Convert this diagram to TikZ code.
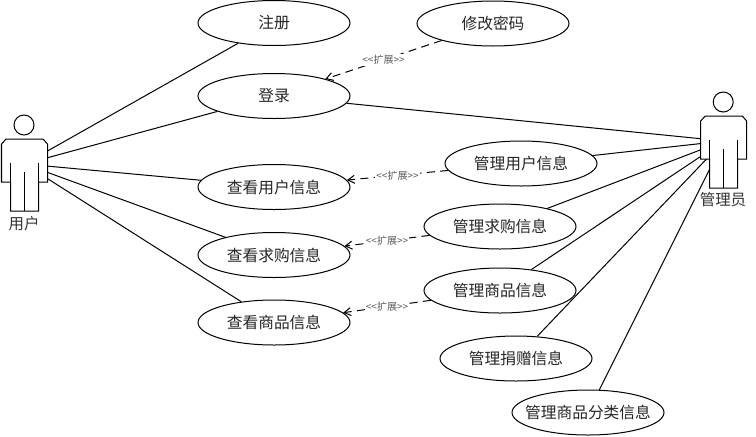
\documentclass[tikz,border=0pt]{standalone}
\usepackage{fontspec}
\setmainfont{Noto Sans CJK SC}
\usetikzlibrary{shapes.geometric,arrows.meta}

\tikzset{
  usecase/.style = {draw, ellipse, fill = white, line width = 0.75pt, minimum width = 114pt, minimum height = 33.75pt, inner sep = 0pt, font = \fontsize{11.8}{14}\selectfont, text = black!85},
  assoc/.style = {line width = 0.75pt},
  extend/.style = {line width = 0.75pt, dashed, dash pattern = on 6pt off 4pt, -{Straight Barb[length = 5pt, width = 6pt]}},
  extendlabel/.style = {fill = white, inner sep = 1pt, font = \fontsize{7.5}{8}\selectfont, text = black!65},
  actorname/.style = {inner sep = 0pt, font = \fontsize{11.6}{13}\selectfont, text = black!80}
}

% stick figure round a centre point, drawn over the line ends
\newcommand{\actorfig}[1]{
  \begin{scope}[shift = {(#1)}, line width = 0.75pt]
    \draw (-0.5,-39) circle [radius = 7.5pt];
    \draw [fill = white] (-18.5,-25) -- (18.5,-25) -- (23,-20) -- (23,18) -- (14,18) -- (14,47) -- (-14,47) -- (-14,18) -- (-23,18) -- (-23,-20) -- cycle;
    \draw (-14,18) -- (-14,-1);
    \draw (14,18) -- (14,-1);
    \draw (0,47) -- (0,8);
  \end{scope}
}
% long text must not widen its ellipse
\newcommand{\widelabel}[1]{\makebox[0pt]{#1}}

\begin{document}
\begin{tikzpicture}[x = 0.75pt, y = -0.75pt]
\useasboundingbox (0,0) rectangle (756,436);

\coordinate (user) at (24.5,164);
\coordinate (admin) at (723.7,141);

\node [usecase] (register) at (274,23) {注册};
\node [usecase] (password) at (493,23.5) {修改密码};
\node [usecase] (login) at (274,96) {登录};
\node [usecase] (viewuser) at (274,187) {查看用户信息};
\node [usecase] (viewbuy) at (274,255) {查看求购信息};
\node [usecase] (viewgoods) at (274,322.5) {查看商品信息};
\node [usecase] (manuser) at (521,163.5) {管理用户信息};
\node [usecase] (manbuy) at (500,226.5) {管理求购信息};
\node [usecase] (mangoods) at (500,290.5) {管理商品信息};
\node [usecase] (mandonate) at (516,358.5) {管理捐赠信息};
\node [usecase] (mankind) at (588,412.5) {\widelabel{管理商品分类信息}};

\draw [assoc] (user) -- (register);
\draw [assoc] (user) -- (login);
\draw [assoc] (user) -- (viewuser);
\draw [assoc] (user) -- (viewbuy);
\draw [assoc] (user) -- (viewgoods);

\draw [assoc] (login) -- (admin);
\draw [assoc] (manuser) -- (admin);
\draw [assoc] (manbuy) -- (admin);
\draw [assoc] (mangoods) -- (admin);
\draw [assoc] (mandonate) -- (admin);
\draw [assoc] (mankind) -- (admin);

\draw [extend] (password) -- node [extendlabel] {<{}<扩展>{}>} (login);
\draw [extend] (manuser) -- node [extendlabel] {<{}<扩展>{}>} (viewuser);
\draw [extend] (manbuy) -- node [extendlabel] {<{}<扩展>{}>} (viewbuy);
\draw [extend] (mangoods) -- node [extendlabel] {<{}<扩展>{}>} (viewgoods);

\actorfig{user}
\actorfig{admin}

\node [actorname] (username) at (24,224) {用户};
\node [actorname] (adminname) at (723,200) {管理员};
\end{tikzpicture}
\end{document}
